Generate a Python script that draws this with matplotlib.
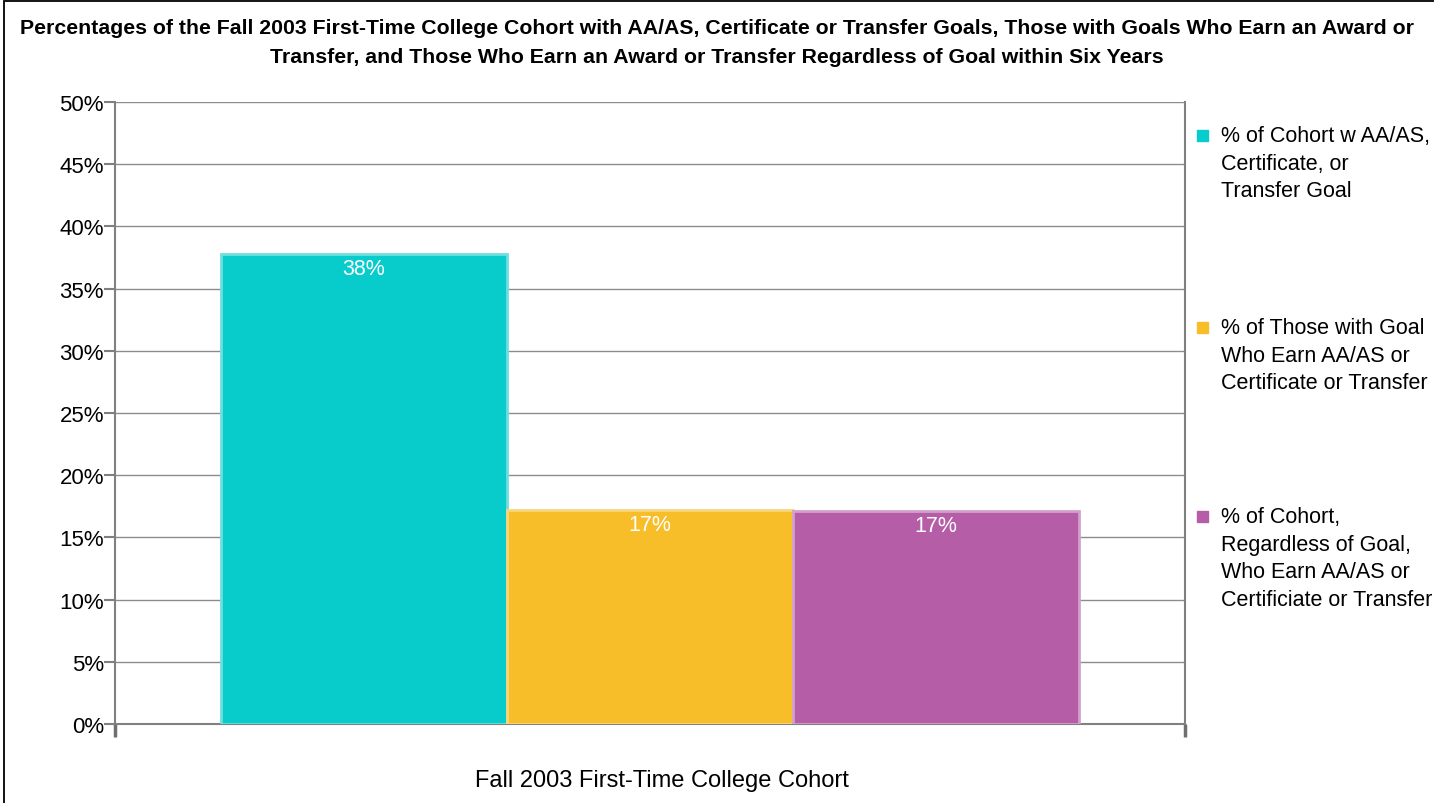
import numpy as np
import matplotlib as mpl
mpl.use("Agg")
import matplotlib.pyplot as plt
from matplotlib.patches import Rectangle

plt.rcParams['font.family'] = ['Liberation Sans', 'DejaVu Sans']

# data
series = ["% of Cohort w AA/AS,\nCertificate, or\nTransfer Goal",
          "% of Those with Goal\nWho Earn AA/AS or\nCertificate or Transfer",
          "% of Cohort,\nRegardless of Goal,\nWho Earn AA/AS or\nCertificiate or Transfer"]
values = [0.378, 0.172, 0.171]
labels = ["38%", "17%", "17%"]
colors = ["#08CCCC", "#F7BE2A", "#B65DA8"]
edges = ["#6EDEDE", "#F9D67E", "#D3A0CB"]
yticks = np.arange(0, 0.51, 0.05)
title = ("Percentages of the Fall 2003 First-Time College Cohort with AA/AS, Certificate or Transfer Goals, "
         "Those with Goals Who Earn an Award or\nTransfer, and Those Who Earn an Award or Transfer "
         "Regardless of Goal within Six Years")
xlabel = "Fall 2003 First-Time College Cohort"

W, H = 1434, 804
fig = plt.figure(figsize=(W/100, H/100), dpi=100)
ax = fig.add_axes([115/W, 1-725/H, (1185-115)/W, (725-103)/H])

x = np.arange(len(values)) - 1
bars = ax.bar(x, values, width=1.0, color=colors, edgecolor=edges, linewidth=2, zorder=3)
for xi, v, lab in zip(x, values, labels):
    ax.annotate(lab, (xi, v), xytext=(0, -3), textcoords="offset points",
                ha="center", va="top", color="white", fontsize=15.5, zorder=4)

ax.set_xlim(-1.87, 1.87)
ax.set_ylim(0, 0.5)
ax.set_yticks(yticks)
ax.set_yticklabels(["%d%%" % round(t*100) for t in yticks], fontsize=16)
ax.set_xticks([-1.87, 1.87])
ax.set_xticklabels([])
ax.tick_params(axis="y", length=8, width=1.5, color="#7F7F7F", pad=0)
ax.tick_params(axis="x", length=9, width=2.5, color="#6F6F6F")
ax.grid(axis="y", color="#8C8C8C", linewidth=1, zorder=0)
for s in ["left", "bottom", "right"]:
    ax.spines[s].set_color("#808080")
    ax.spines[s].set_linewidth(1.5)
ax.spines["top"].set_visible(False)

fig.text(662/W, 1-781/H, xlabel, ha="center", va="center", fontsize=17)
fig.text(717/W, 1-43/H, title, ha="center", va="center", fontsize=15.3,
         fontweight="bold", linespacing=1.67)

# legend drawn by hand so squares sit on the first line
leg_y = [136, 328, 517]
for lab, c, yy in zip(series, colors, leg_y):
    fig.patches.append(Rectangle((1197/W, 1-(yy+5.5)/H), 11/W, 11/H,
                                 transform=fig.transFigure, color=c))
    fig.text(1221/W, 1-(yy-10)/H, lab, ha="left", va="top", fontsize=15.5, linespacing=1.42)

fig.patches.append(Rectangle((4/W, -0.01), 1.02, 1-1.5/H+0.01, transform=fig.transFigure,
                             fill=False, edgecolor="black", linewidth=1.3))

fig.savefig("out.png", dpi=100)
